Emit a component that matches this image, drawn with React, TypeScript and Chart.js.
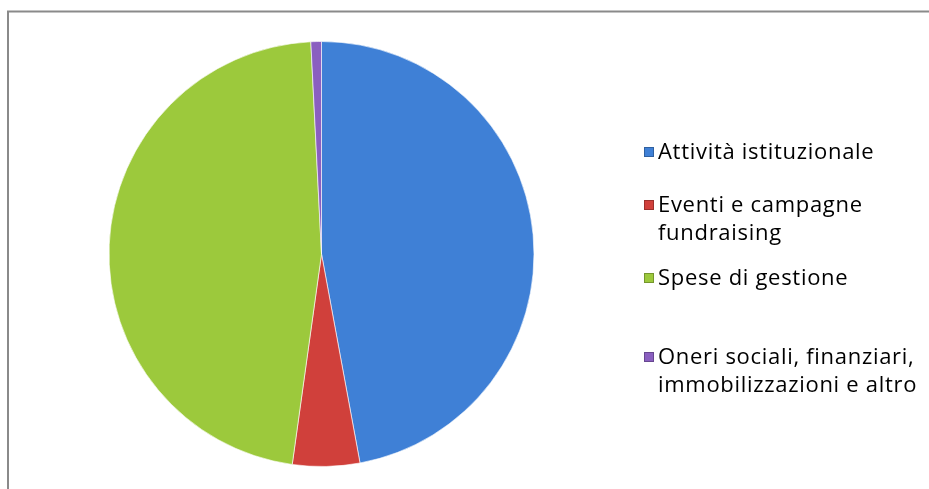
import React, { useEffect, useRef } from "react";
import { Chart, registerables } from "chart.js";

Chart.register(...registerables);

const categories: string[][] = [
  ["Attività istituzionale"],
  ["Eventi e campagne", "fundraising"],
  ["Spese di gestione"],
  ["Oneri sociali, finanziari,", "immobilizzazioni e altro"],
];
const values: number[] = [47.1, 5.1, 47.0, 0.8];
const colors: string[] = ["#3F80D6", "#D0403B", "#9CC93C", "#8A5FC0"];
const legendLineY: number[] = [152, 205, 278, 357];

const FONT = "'Open Sans', sans-serif";

const legendPlugin = {
  id: "customLegend",
  afterDraw(chart: any) {
    const ctx = chart.ctx as CanvasRenderingContext2D;
    ctx.save();
    // frame
    ctx.strokeStyle = "#8a8a8a";
    ctx.lineWidth = 2;
    ctx.beginPath();
    ctx.moveTo(8, 489);
    ctx.lineTo(8, 11.5);
    ctx.lineTo(929, 11.5);
    ctx.stroke();
    // legend
    ctx.font = `22px ${FONT}`;
    (ctx as any).letterSpacing = "0.7px";
    ctx.textBaseline = "middle";
    const labels = chart.data.labels as string[][];
    const bg = chart.data.datasets[0].backgroundColor as string[];
    labels.forEach((lines, i) => {
      const y0 = legendLineY[i];
      ctx.fillStyle = bg[i];
      ctx.fillRect(644, y0 - 5, 10, 10);
      ctx.strokeStyle = "rgba(0,0,0,0.25)";
      ctx.lineWidth = 1;
      ctx.strokeRect(644.5, y0 - 4.5, 9, 9);
      ctx.fillStyle = "#000";
      lines.forEach((ln, j) => {
        ctx.fillText(ln, 658, y0 + 1 + j * 28);
      });
    });
    ctx.restore();
  },
};

export default function App() {
  const ref = useRef<HTMLCanvasElement | null>(null);
  useEffect(() => {
    document.body.style.margin = "0";
    const chart = new Chart(ref.current!, {
      type: "pie",
      data: {
        labels: categories as any,
        datasets: [
          {
            data: values,
            backgroundColor: colors,
            borderColor: "rgba(255,255,255,0.6)",
            borderWidth: 1,
          },
        ],
      },
      options: {
        animation: false,
        responsive: false,
        events: [],
        layout: { padding: { left: 108, top: 41, right: 394, bottom: 22 } },
        plugins: {
          legend: { display: false },
          tooltip: { enabled: false },
        },
      },
      plugins: [legendPlugin],
    });
    return () => chart.destroy();
  }, []);
  return (
    <div style={{ position: "absolute", left: 0, top: 0, width: 929, height: 489, background: "#fff" }}>
      <canvas ref={ref} width={929} height={489} style={{ width: 929, height: 489 }} />
    </div>
  );
}
